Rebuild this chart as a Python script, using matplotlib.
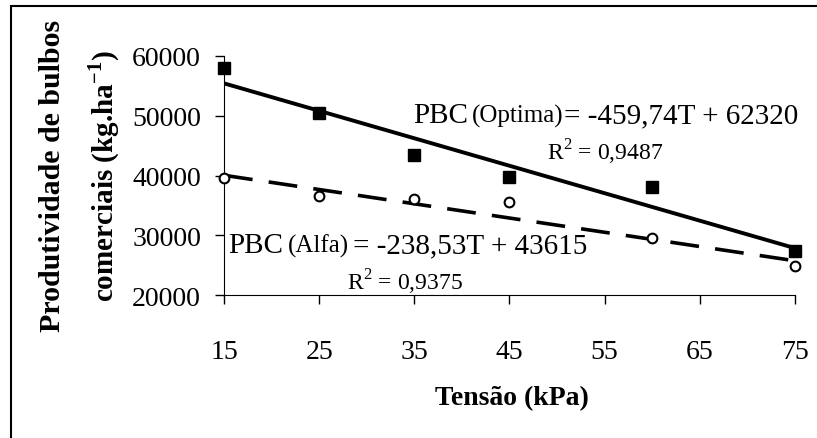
import numpy as np
import matplotlib.pyplot as plt
from matplotlib.patches import Rectangle

# dados
tensao = [15, 25, 35, 45, 60, 75]
optima = [58000, 50500, 43500, 39800, 38100, 27400]
alfa = [39500, 36500, 36100, 35600, 29500, 24900]

# coeficientes das retas de regressão (equações do gráfico)
a_optima, b_optima = -459.74, 62320
a_alfa, b_alfa = -238.53, 43615

xticks = [15, 25, 35, 45, 55, 65, 75]
yticks = [20000, 30000, 40000, 50000, 60000]

plt.rcParams['font.family'] = ['Liberation Serif', 'DejaVu Serif']
plt.rcParams['mathtext.fontset'] = 'custom'
plt.rcParams['mathtext.rm'] = 'Liberation Serif'
plt.rcParams['mathtext.bf'] = 'Liberation Serif:bold'

W, H = 817, 439
fig = plt.figure(figsize=(W / 100, H / 100), dpi=100)
ax = fig.add_axes([224 / W, 1 - 296 / H, (795 - 224) / W, (296 - 57) / H])

# moldura externa
fig.patches.append(Rectangle((11 / W, -0.1), 1.2, 1 - 7 / H + 0.1,
                             transform=fig.transFigure, fill=False,
                             edgecolor='black', linewidth=1.5))

t = np.array([15, 75])
ax.plot(t, a_optima * t + b_optima, color='black', lw=2.8, zorder=2)
ax.plot(t, a_alfa * t + b_alfa, color='black', lw=2.6, dashes=(8, 4.5), zorder=2)

ax.plot(tensao, optima, ls='none', marker='s', ms=8, color='black', zorder=3,
        clip_on=False)
ax.plot(tensao, alfa, ls='none', marker='o', ms=7, mfc='white', mec='black',
        mew=1.5, zorder=3, clip_on=False)

ax.set_xlim(15, 75)
ax.set_ylim(20000, 60000)
ax.set_xticks(xticks)
ax.set_yticks(yticks)
ax.tick_params(labelsize=20, length=6.5, width=1, direction='out')
ax.tick_params(axis='y', pad=10)
ax.tick_params(axis='x', pad=25)
for s in ['top', 'right']:
    ax.spines[s].set_visible(False)

# equações (peças posicionadas como no original)
def fx(x):
    return x / W

def fy(y):
    return 1 - y / H

fig.text(fx(413), fy(123), 'PBC', fontsize=21, va='baseline')
fig.text(fx(472), fy(123), '(Optima)', fontsize=18, va='baseline')
fig.text(fx(564), fy(123), '= -459,74T + 62320', fontsize=21, va='baseline')
fig.text(fx(605), fy(152), r'R$^2$ = 0,9487', fontsize=17, ha='center', va='center')

fig.text(fx(228), fy(253), 'PBC', fontsize=21, va='baseline')
fig.text(fx(288), fy(253), '(Alfa)', fontsize=18, va='baseline')
fig.text(fx(353), fy(253), '= -238,53T + 43615', fontsize=21, va='baseline')
fig.text(fx(405), fy(282), r'R$^2$ = 0,9375', fontsize=17, ha='center', va='center')

fig.text(fx(512), fy(399), 'Tensão (kPa)', fontsize=20, fontweight='bold',
         ha='center', va='center')
fig.text(fx(53), fy(176), 'Produtividade de bulbos', fontsize=21.5,
         fontweight='bold', rotation=90, ha='center', va='center')
fig.text(fx(104), fy(176), r'comerciais (kg.ha$^{\mathbf{-1}}$)', fontsize=21,
         fontweight='bold', rotation=90, ha='center', va='center')

fig.savefig('out.png', dpi=100)
